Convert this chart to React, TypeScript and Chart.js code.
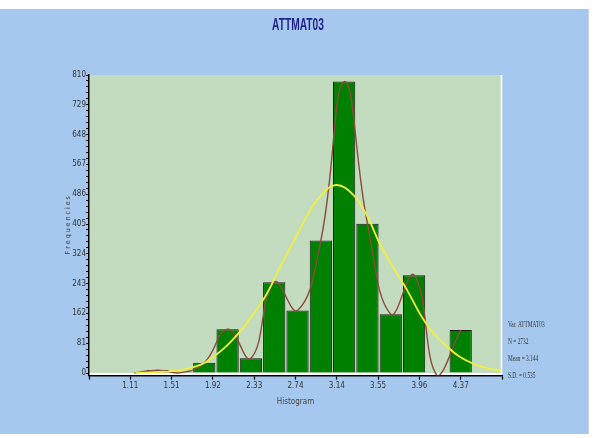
import React, { useEffect, useRef } from 'react';
import { Chart, registerables } from 'chart.js';

Chart.register(...registerables);

// ---------- data ----------
const chartTitle = 'ATTMAT03';
const xAxisTitle = 'Histogram';
const yAxisTitle = 'F r e q u e n c i e s';

const binCenters = [1.38, 1.61, 1.84, 2.07, 2.30, 2.53, 2.76, 2.99, 3.22, 3.45, 3.68, 3.91, 4.14, 4.37];
const frequencies = [8, 1, 28, 119, 40, 247, 170, 360, 792, 406, 160, 266, 0, 117];

// smooth (brown) curve
const smoothX = [1.15, 1.38, 1.61, 1.84, 2.07, 2.30, 2.53, 2.76, 2.99, 3.22, 3.45, 3.68, 3.91, 4.14, 4.37];
const smoothY = [0, 8, 1, 28, 119, 40, 247, 170, 360, 792, 406, 160, 266, -8, 117];

// normal (yellow) curve
const normalX = [1.16, 1.30, 1.45, 1.60, 1.80, 1.93, 2.06, 2.19, 2.32, 2.46, 2.59, 2.72, 2.85, 2.98, 3.14, 3.31, 3.45, 3.57, 3.70, 3.84, 3.97, 4.10, 4.24, 4.36, 4.49, 4.63, 4.77];
const normalY = [1, 2, 4, 8, 22, 44, 74, 112, 158, 217, 289, 357, 425, 479, 511, 484, 425, 352, 289, 226, 160, 109, 71, 44, 26, 13, 6];

const xTickLabels = ['1.11', '1.51', '1.92', '2.33', '2.74', '3.14', '3.55', '3.96', '4.37'];
const xAxisMin = 0.7025;
const xAxisStep = 0.4075;
const xAxisSteps = 10;

const yMajorStep = 81;
const yMinorStep = 16.2;
const yMax = 810;
const yMin = -7;

const statsLines = ['Var. ATTMAT03', 'N = 2732', 'Mean = 3.144', 'S.D. = 0.535'];

// ---------- style ----------
const NARROW = '"Liberation Sans Narrow", "DejaVu Sans Condensed", "Liberation Sans", Arial, sans-serif';
const PLOT_BG = '#c3dcc0';
const PAGE_BG = '#a7c8ee';

function drawSquashed(
  ctx: CanvasRenderingContext2D,
  text: string,
  x: number,
  y: number,
  font: string,
  color: string,
  sx: number,
  align: CanvasTextAlign
) {
  ctx.save();
  ctx.translate(x, y);
  ctx.scale(sx, 1);
  ctx.font = font;
  ctx.fillStyle = color;
  ctx.textAlign = align;
  ctx.textBaseline = 'middle';
  ctx.fillText(text, 0, 0);
  ctx.restore();
}

const decorPlugin = {
  id: 'decor',
  beforeDraw(chart: any) {
    const { ctx, chartArea } = chart;
    const y0 = chart.scales.y.getPixelForValue(0);
    ctx.save();
    ctx.fillStyle = PLOT_BG;
    ctx.fillRect(chartArea.left, chartArea.top, chartArea.right - chartArea.left, y0 - chartArea.top);
    ctx.fillStyle = '#ffffff';
    ctx.fillRect(chartArea.left, y0, chartArea.right - chartArea.left, chartArea.bottom - y0);
    ctx.restore();
  },
  afterDraw(chart: any) {
    const { ctx, chartArea } = chart;
    ctx.save();
    ctx.strokeStyle = '#ffffff';
    ctx.lineWidth = 1.5;
    ctx.beginPath();
    ctx.moveTo(chartArea.right - 0.5, chartArea.top);
    ctx.lineTo(chartArea.right - 0.5, chartArea.bottom - 1);
    ctx.stroke();
    ctx.restore();

    drawSquashed(ctx, chartTitle, 298, 25, 'bold 17px "Liberation Sans", Arial, sans-serif', '#1f1f8c', 0.6, 'center');

    statsLines.forEach((line, i) => {
      drawSquashed(
        ctx,
        line,
        chartArea.right + 6,
        chartArea.bottom - 50.5 + i * 17,
        '7.5px "Liberation Serif", "DejaVu Serif", serif',
        '#333333',
        0.72,
        'left'
      );
    });
  },
};

export default function App() {
  const canvasRef = useRef<HTMLCanvasElement | null>(null);

  useEffect(() => {
    if (!canvasRef.current) return;
    const tickFont = { family: NARROW, size: 8 };
    const chart = new Chart(canvasRef.current, {
      type: 'bar',
      data: {
        datasets: [
          {
            type: 'line',
            data: normalX.map((x, i) => ({ x, y: normalY[i] })),
            borderColor: '#f0f03c',
            borderWidth: 1.8,
            tension: 0.4,
            pointRadius: 0,
            fill: false,
            order: 1,
          } as any,
          {
            type: 'line',
            data: smoothX.map((x, i) => ({ x, y: smoothY[i] })),
            borderColor: '#8c4b3c',
            borderWidth: 1.4,
            tension: 0.45,
            pointRadius: 0,
            fill: false,
            order: 2,
          } as any,
          {
            type: 'bar',
            data: binCenters.map((x, i) => ({ x, y: frequencies[i] })),
            backgroundColor: '#008000',
            borderColor: '#1a1a1a',
            borderWidth: 1,
            barPercentage: 0.955,
            categoryPercentage: 1,
            order: 3,
          } as any,
        ],
      },
      options: {
        responsive: false,
        animation: false,
        devicePixelRatio: 1,
        layout: { padding: { top: 75, left: 62, right: 93, bottom: 31 } },
        plugins: {
          legend: { display: false },
          title: { display: false },
          tooltip: { enabled: false },
        },
        scales: {
          x: {
            type: 'linear',
            min: xAxisMin,
            max: xAxisMin + xAxisStep * xAxisSteps,
            offset: false,
            afterBuildTicks: (s: any) => {
              s.ticks = Array.from({ length: xAxisSteps + 1 }, (_, i) => ({ value: xAxisMin + i * xAxisStep }));
            },
            afterFit: (s: any) => {
              s.height = 31.4;
            },
            ticks: {
              autoSkip: false,
              maxRotation: 0,
              padding: 2,
              font: tickFont,
              color: '#333333',
              callback: (_v: any, i: number) => (i >= 1 && i <= xTickLabels.length ? xTickLabels[i - 1] : ''),
            },
            grid: { drawOnChartArea: false, offset: false, tickLength: 4, color: '#000000', tickWidth: 1.2 },
            border: { color: '#000000', width: 1.5 },
            title: { display: true, text: xAxisTitle, font: { family: NARROW, size: 8 }, color: '#444444', padding: 0 },
          },
          y: {
            type: 'linear',
            min: yMin,
            max: yMax,
            afterBuildTicks: (s: any) => {
              const n = Math.round(yMax / yMinorStep);
              s.ticks = Array.from({ length: n + 1 }, (_, i) => ({ value: i * yMinorStep }));
            },
            afterFit: (s: any) => {
              s.width = 27;
            },
            ticks: {
              autoSkip: false,
              padding: 0,
              font: tickFont,
              color: '#333333',
              callback: (v: any) => {
                const r = v / yMajorStep;
                return Math.abs(r - Math.round(r)) < 1e-6 ? String(Math.round(v)) : '';
              },
            },
            grid: { drawOnChartArea: false, tickLength: 3, color: '#000000', tickWidth: 1 },
            border: { color: '#000000', width: 1.5 },
            title: {
              display: true,
              text: yAxisTitle,
              font: { family: NARROW, size: 7 },
              color: '#444444',
              padding: { top: 2, bottom: 0 },
            },
          },
        },
      } as any,
      plugins: [decorPlugin],
    });
    return () => chart.destroy();
  }, []);

  return (
    <div style={{ position: 'fixed', left: 0, top: 0, width: 595, height: 438, background: '#ffffff', overflow: 'hidden' }}>
      <div style={{ position: 'absolute', left: 0, top: 9, width: 588, height: 425, background: PAGE_BG, borderRight: '1px solid #c9d2de' }} />
      <canvas ref={canvasRef} width={595} height={438} style={{ position: 'absolute', left: 0, top: 0, width: 595, height: 438 }} />
    </div>
  );
}
